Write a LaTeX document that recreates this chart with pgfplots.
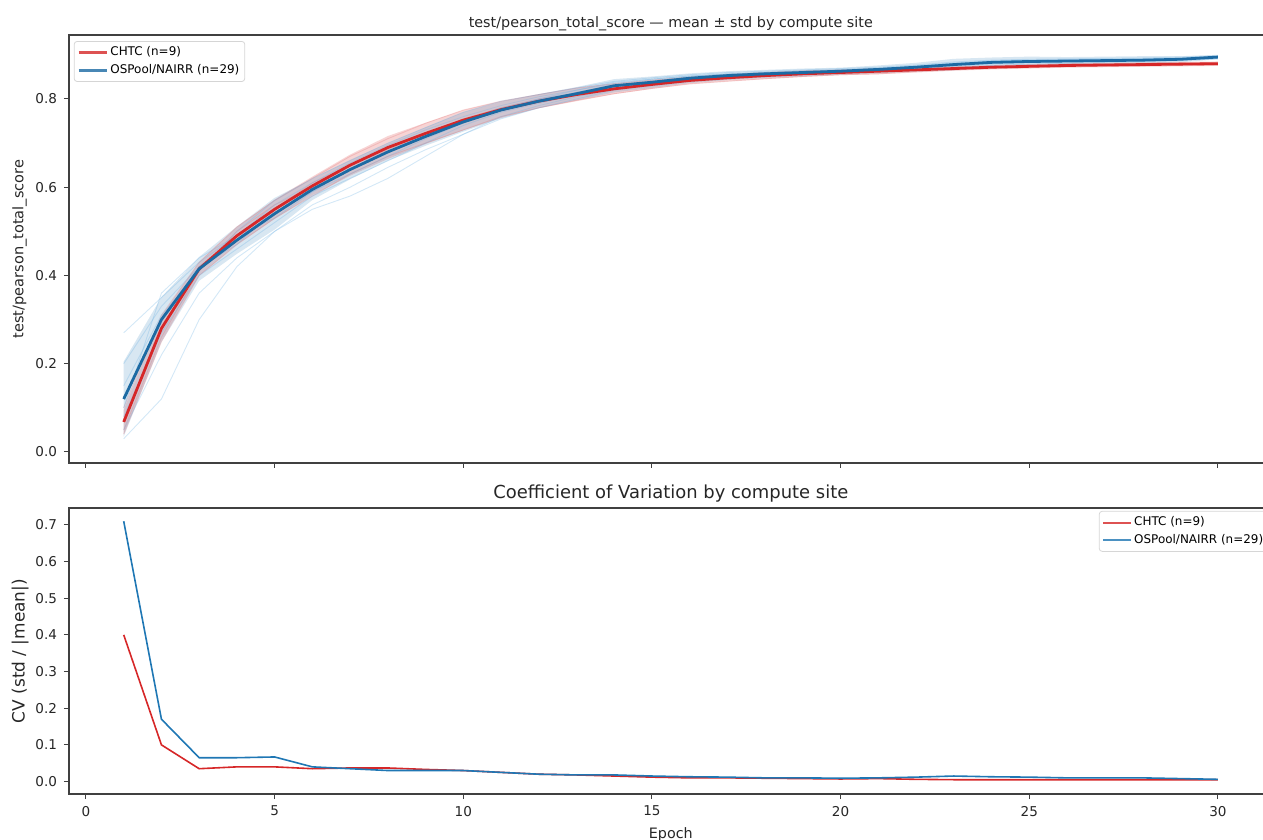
\documentclass[border=0pt]{standalone}
\usepackage{pgfplots}
\pgfplotsset{compat=1.18}
\usepackage{pgfplotstable}
\usepgfplotslibrary{fillbetween}
\usepackage{fontspec}
\setmainfont{DejaVu Sans}
\definecolor{cred}{HTML}{D62728}
\definecolor{cblue}{HTML}{1F77B4}
\definecolor{cblueline}{HTML}{1C6AA3}
\definecolor{crun}{HTML}{6FB2E3}

\pgfplotstableread{
e mR loR hiR mB loB hiB
1 0.068 0.041 0.095 0.120 0.035 0.205
2 0.280 0.252 0.308 0.300 0.249 0.351
3 0.415 0.400 0.430 0.415 0.388 0.442
4 0.490 0.470 0.510 0.480 0.449 0.511
5 0.550 0.528 0.572 0.540 0.504 0.576
6 0.603 0.582 0.624 0.595 0.571 0.619
7 0.650 0.626 0.674 0.640 0.618 0.662
8 0.690 0.664 0.716 0.680 0.660 0.700
9 0.722 0.698 0.746 0.715 0.694 0.736
10 0.752 0.729 0.775 0.748 0.726 0.770
11 0.776 0.757 0.795 0.775 0.756 0.794
12 0.795 0.779 0.811 0.795 0.779 0.811
13 0.810 0.795 0.825 0.812 0.797 0.827
14 0.823 0.811 0.835 0.830 0.815 0.845
15 0.833 0.823 0.843 0.838 0.825 0.851
16 0.842 0.834 0.850 0.847 0.836 0.858
17 0.848 0.840 0.856 0.853 0.843 0.863
18 0.853 0.845 0.861 0.857 0.848 0.866
19 0.857 0.850 0.864 0.860 0.851 0.869
20 0.860 0.854 0.866 0.863 0.855 0.871
21 0.863 0.856 0.870 0.867 0.858 0.876
22 0.866 0.861 0.871 0.872 0.862 0.882
23 0.869 0.865 0.873 0.878 0.865 0.891
24 0.872 0.868 0.876 0.883 0.872 0.894
25 0.874 0.870 0.878 0.885 0.874 0.896
26 0.876 0.872 0.880 0.886 0.877 0.895
27 0.877 0.873 0.881 0.887 0.878 0.896
28 0.878 0.874 0.882 0.888 0.879 0.897
29 0.879 0.875 0.883 0.890 0.883 0.897
30 0.880 0.876 0.884 0.895 0.890 0.900
}\ms

\pgfplotstableread{
e cvR cvB
1 0.400 0.710
2 0.100 0.170
3 0.035 0.065
4 0.040 0.065
5 0.040 0.067
6 0.035 0.040
7 0.037 0.035
8 0.037 0.030
9 0.033 0.030
10 0.030 0.030
11 0.025 0.025
12 0.020 0.020
13 0.018 0.018
14 0.015 0.018
15 0.012 0.015
16 0.010 0.013
17 0.010 0.012
18 0.009 0.010
19 0.008 0.010
20 0.007 0.009
21 0.008 0.010
22 0.006 0.012
23 0.005 0.015
24 0.005 0.013
25 0.005 0.012
26 0.005 0.010
27 0.005 0.010
28 0.005 0.010
29 0.005 0.008
30 0.005 0.006
}\cv

\pgfplotstableread{
e b1 b2 b3 b4 b5 b6 b7 b8
1 0.27 0.03 0.20 0.08 0.15 0.05 0.12 0.10
2 0.35 0.12 0.33 0.27 0.31 0.22 0.30 0.36
3 0.43 0.30 0.42 0.40 0.41 0.36 0.42 0.44
4 0.49 0.42 0.47 0.46 0.50 0.44 0.48 0.49
5 0.56 0.50 0.55 0.52 0.57 0.50 0.54 0.53
6 0.61 0.56 0.60 0.58 0.62 0.55 0.59 0.59
7 0.655 0.60 0.64 0.62 0.66 0.58 0.64 0.63
8 0.695 0.645 0.68 0.66 0.70 0.62 0.69 0.67
9 0.73 0.685 0.72 0.70 0.735 0.67 0.72 0.71
10 0.76 0.72 0.75 0.74 0.77 0.72 0.75 0.745
11 0.785 0.755 0.775 0.77 0.795 0.76 0.78 0.775
12 0.805 0.78 0.795 0.79 0.81 0.785 0.80 0.80
13 0.82 0.80 0.815 0.81 0.825 0.805 0.815 0.82
14 0.835 0.82 0.832 0.826 0.84 0.822 0.83 0.838
15 0.845 0.83 0.84 0.836 0.848 0.833 0.838 0.845
16 0.852 0.84 0.85 0.845 0.855 0.843 0.847 0.852
17 0.857 0.846 0.856 0.851 0.86 0.85 0.853 0.856
18 0.86 0.851 0.86 0.855 0.863 0.855 0.857 0.859
19 0.864 0.855 0.862 0.858 0.866 0.858 0.86 0.862
20 0.867 0.859 0.865 0.861 0.869 0.861 0.863 0.865
21 0.87 0.862 0.868 0.865 0.872 0.864 0.867 0.869
22 0.875 0.866 0.874 0.87 0.877 0.868 0.872 0.874
23 0.882 0.87 0.88 0.876 0.884 0.874 0.879 0.88
24 0.886 0.876 0.884 0.881 0.888 0.879 0.883 0.885
25 0.888 0.879 0.886 0.884 0.89 0.882 0.885 0.887
26 0.889 0.881 0.887 0.885 0.891 0.884 0.886 0.888
27 0.89 0.883 0.888 0.886 0.892 0.885 0.887 0.889
28 0.891 0.885 0.889 0.888 0.893 0.887 0.888 0.89
29 0.893 0.887 0.891 0.89 0.895 0.889 0.89 0.892
30 0.896 0.891 0.895 0.894 0.898 0.892 0.895 0.897
}\runsB

\pgfplotstableread{
e r1 r2 r3 r4
1 0.04 0.10 0.07 0.05
2 0.25 0.31 0.28 0.26
3 0.40 0.43 0.42 0.41
4 0.47 0.51 0.49 0.50
5 0.53 0.57 0.55 0.56
6 0.58 0.62 0.61 0.60
7 0.63 0.67 0.65 0.64
8 0.67 0.71 0.69 0.685
9 0.70 0.745 0.72 0.72
10 0.73 0.775 0.75 0.755
11 0.76 0.795 0.775 0.78
12 0.78 0.81 0.795 0.80
13 0.797 0.825 0.81 0.812
14 0.812 0.835 0.823 0.825
15 0.824 0.843 0.833 0.835
16 0.834 0.85 0.842 0.843
17 0.84 0.856 0.848 0.849
18 0.846 0.86 0.853 0.854
19 0.851 0.864 0.857 0.858
20 0.855 0.866 0.86 0.861
21 0.857 0.869 0.863 0.864
22 0.861 0.871 0.866 0.867
23 0.865 0.873 0.869 0.87
24 0.868 0.876 0.872 0.873
25 0.87 0.878 0.874 0.875
26 0.872 0.88 0.876 0.877
27 0.873 0.881 0.877 0.878
28 0.874 0.882 0.878 0.879
29 0.875 0.883 0.879 0.88
30 0.876 0.884 0.88 0.881
}\runsR

\pgfplotsset{
  base/.style={
    scale only axis, width=601.8bp,
    xmin=-0.45, xmax=31.45,
    xtick={0,5,10,15,20,25,30},
    tick align=outside, major tick length=2.5bp,
    xtick pos=left, ytick pos=left,
    tick style={black!75, line width=0.5bp},
    axis line style={black!75, line width=0.6bp},
    ticklabel style={font=\fontsize{6.8}{8}\selectfont, text=black!85},
    /pgf/number format/assume math mode=true,
    yticklabel style={/pgf/number format/fixed, /pgf/number format/fixed zerofill,
      /pgf/number format/precision=1},
    legend image code/.code={\draw[#1] (0bp,0bp) -- (14bp,0bp);},
    legend cell align=left,
    legend style={font=\fontsize{6.0}{7}\selectfont, draw=black!20,
      rounded corners=1.5bp, fill=white, fill opacity=0.8, draw opacity=0.8,
      text opacity=1, inner sep=1.5bp, row sep=0.2bp,
      nodes={inner sep=1.2bp}},
  }
}

\begin{document}
\begin{tikzpicture}
% bottom axis
\begin{axis}[base, at={(0,0)}, anchor=south west,
  height=143bp, ymin=-0.034, ymax=0.746,
  ytick={0,0.1,0.2,0.3,0.4,0.5,0.6,0.7},
  xlabel={Epoch}, ylabel={CV (std / |mean|)},
  xlabel style={font=\fontsize{7.2}{8.5}\selectfont, text=black!85, yshift=1bp},
  ylabel style={font=\fontsize{8.5}{10}\selectfont, text=black!85},
  ylabel shift=-3.5bp,
  title={Coefficient of Variation by compute site},
  title style={font=\fontsize{9}{10.5}\selectfont, text=black!85,
      anchor=base, at={(0.5,1)}, yshift=-1bp, inner sep=0pt},
  legend style={at={(0.997,0.99)}, anchor=north east}]
\addplot[cred, line width=0.8bp] table[x=e, y=cvR] {\cv};
\addlegendentry{CHTC (n=9)}
\addplot[cblue, line width=0.8bp] table[x=e, y=cvB] {\cv};
\addlegendentry{OSPool/NAIRR (n=29)}
\end{axis}
% top axis
\begin{axis}[base, at={(0,165.5bp)}, anchor=south west,
  height=214bp, ymin=-0.025, ymax=0.945,
  ytick={0,0.2,0.4,0.6,0.8}, xticklabels={},
  ylabel={test/pearson\_total\_score},
  ylabel style={font=\fontsize{7.3}{8.5}\selectfont, text=black!85},
  ylabel shift=-2.5bp,
  title={test/pearson\_total\_score — mean ± std by compute site},
  title style={font=\fontsize{7.2}{8.5}\selectfont, text=black!85,
      anchor=base, at={(0.5,1)}, yshift=-2bp, inner sep=0pt},
  legend style={at={(0.004,0.986)}, anchor=north west}]
\addplot[cred!70, draw opacity=0.25, line width=0.45bp, forget plot] table[x=e, y=r1] {\runsR};
\addplot[cred!70, draw opacity=0.25, line width=0.45bp, forget plot] table[x=e, y=r2] {\runsR};
\addplot[cred!70, draw opacity=0.25, line width=0.45bp, forget plot] table[x=e, y=r3] {\runsR};
\addplot[cred!70, draw opacity=0.25, line width=0.45bp, forget plot] table[x=e, y=r4] {\runsR};
\addplot[crun, draw opacity=0.3, line width=0.45bp, forget plot] table[x=e, y=b1] {\runsB};
\addplot[crun, draw opacity=0.3, line width=0.45bp, forget plot] table[x=e, y=b2] {\runsB};
\addplot[crun, draw opacity=0.3, line width=0.45bp, forget plot] table[x=e, y=b3] {\runsB};
\addplot[crun, draw opacity=0.3, line width=0.45bp, forget plot] table[x=e, y=b4] {\runsB};
\addplot[crun, draw opacity=0.3, line width=0.45bp, forget plot] table[x=e, y=b5] {\runsB};
\addplot[crun, draw opacity=0.3, line width=0.45bp, forget plot] table[x=e, y=b6] {\runsB};
\addplot[crun, draw opacity=0.3, line width=0.45bp, forget plot] table[x=e, y=b7] {\runsB};
\addplot[crun, draw opacity=0.3, line width=0.45bp, forget plot] table[x=e, y=b8] {\runsB};
\addplot[name path=rhi, draw=none, forget plot] table[x=e, y=hiR] {\ms};
\addplot[name path=rlo, draw=none, forget plot] table[x=e, y=loR] {\ms};
\addplot[fill=cred, fill opacity=0.2, draw=none, forget plot] fill between[of=rhi and rlo];
\addplot[name path=bhi, draw=none, forget plot] table[x=e, y=hiB] {\ms};
\addplot[name path=blo, draw=none, forget plot] table[x=e, y=loB] {\ms};
\addplot[fill=cblue!80, fill opacity=0.22, draw=none, forget plot] fill between[of=bhi and blo];
\addplot[cred, line width=1.4bp] table[x=e, y=mR] {\ms};
\addlegendentry{CHTC (n=9)}
\addplot[cblueline, line width=1.4bp] table[x=e, y=mB] {\ms};
\addlegendentry{OSPool/NAIRR (n=29)}
\end{axis}
\pgfresetboundingbox
\path[use as bounding box] (-34.5bp,-23bp) rectangle (597bp,397bp);
\end{tikzpicture}
\end{document}
